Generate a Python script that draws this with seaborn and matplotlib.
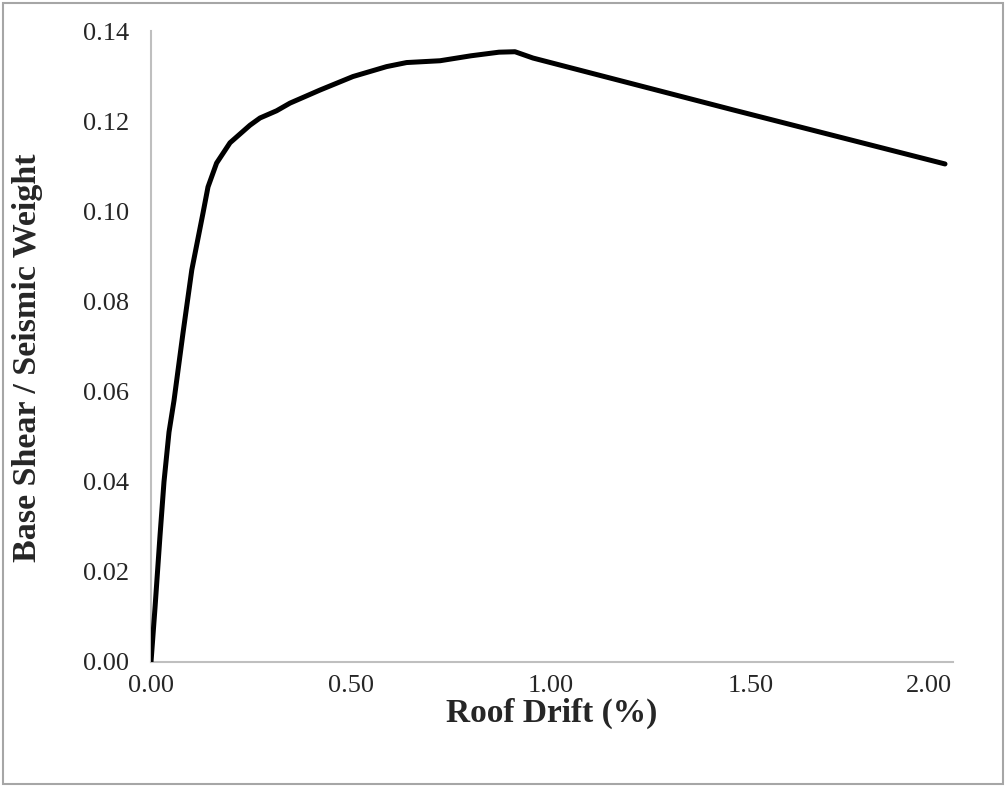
import matplotlib
matplotlib.use("Agg")
import matplotlib.pyplot as plt
import matplotlib.transforms as mtransforms
import seaborn as sns
import pandas as pd
from matplotlib.patches import Rectangle

drift = [0.000, 0.010, 0.0225, 0.0325, 0.045, 0.0575, 0.080, 0.102, 0.130, 0.1425,
         0.164, 0.1975, 0.2475, 0.2725, 0.314, 0.3475, 0.4225, 0.505, 0.589, 0.639,
         0.7225, 0.800, 0.870, 0.910, 0.955, 1.455, 1.985]
shear = [0.000, 0.012, 0.028, 0.040, 0.051, 0.058, 0.073, 0.087, 0.0996, 0.1054,
         0.1107, 0.1152, 0.1191, 0.1207, 0.1223, 0.1240, 0.1269, 0.1299, 0.1321, 0.1330,
         0.1334, 0.1345, 0.1353, 0.1354, 0.1340, 0.1225, 0.1105]
xticks = [0.0, 0.5, 1.0, 1.5, 2.0]
yticks = [0.00, 0.02, 0.04, 0.06, 0.08, 0.10, 0.12, 0.14]

df = pd.DataFrame({"drift": drift, "shear": shear})

sns.set_theme(style="white")
plt.rcParams['font.family'] = ['Liberation Serif', 'DejaVu Serif']

fig = plt.figure(figsize=(10.07, 7.87), dpi=100)
ax = fig.add_axes([151/1007, 1 - 662/787, (953-151)/1007, (662-31)/787])

sns.lineplot(data=df, x="drift", y="shear", color="black", linewidth=3.6, ax=ax,
             sort=False, solid_capstyle="round", solid_joinstyle="round")

ax.set_xlim(0, 2.005)
ax.set_ylim(0, 0.14)
ax.set_xticks(xticks)
ax.set_yticks(yticks)
ax.set_xticklabels([f"{v:.2f}" for v in xticks], fontsize=19)
ax.set_yticklabels([f"{v:.2f}" for v in yticks], fontsize=19)
ax.tick_params(axis="both", length=0)
ax.tick_params(axis="x", pad=9)
ax.tick_params(axis="y", pad=16)

# last x label sits slightly inward, as in the reference
lbl = ax.get_xticklabels()[-1]
lbl.set_transform(lbl.get_transform() + mtransforms.ScaledTranslation(-22/100, 0, fig.dpi_scale_trans))

for s in ["top", "right"]:
    ax.spines[s].set_visible(False)
for s in ["left", "bottom"]:
    ax.spines[s].set_color("#BFBFBF")
    ax.spines[s].set_linewidth(1.5)
    ax.spines[s].set_zorder(0.5)

ax.set_xlabel("Roof Drift (%)", fontsize=24, fontweight="bold", va="center")
ax.set_ylabel("Base Shear / Seismic Weight", fontsize=24.5, fontweight="bold", va="center")
ax.xaxis.set_label_coords(0.5, (662 - 713) / 631)
ax.yaxis.set_label_coords((28 - 151) / 802, (662 - 358) / 631)

fig.patches.append(Rectangle((3/1007, 3/787), 1000/1007, 781/787, transform=fig.transFigure,
                             fill=False, edgecolor="#A6A6A6", linewidth=1.5))

fig.savefig("out.png", dpi=100)
